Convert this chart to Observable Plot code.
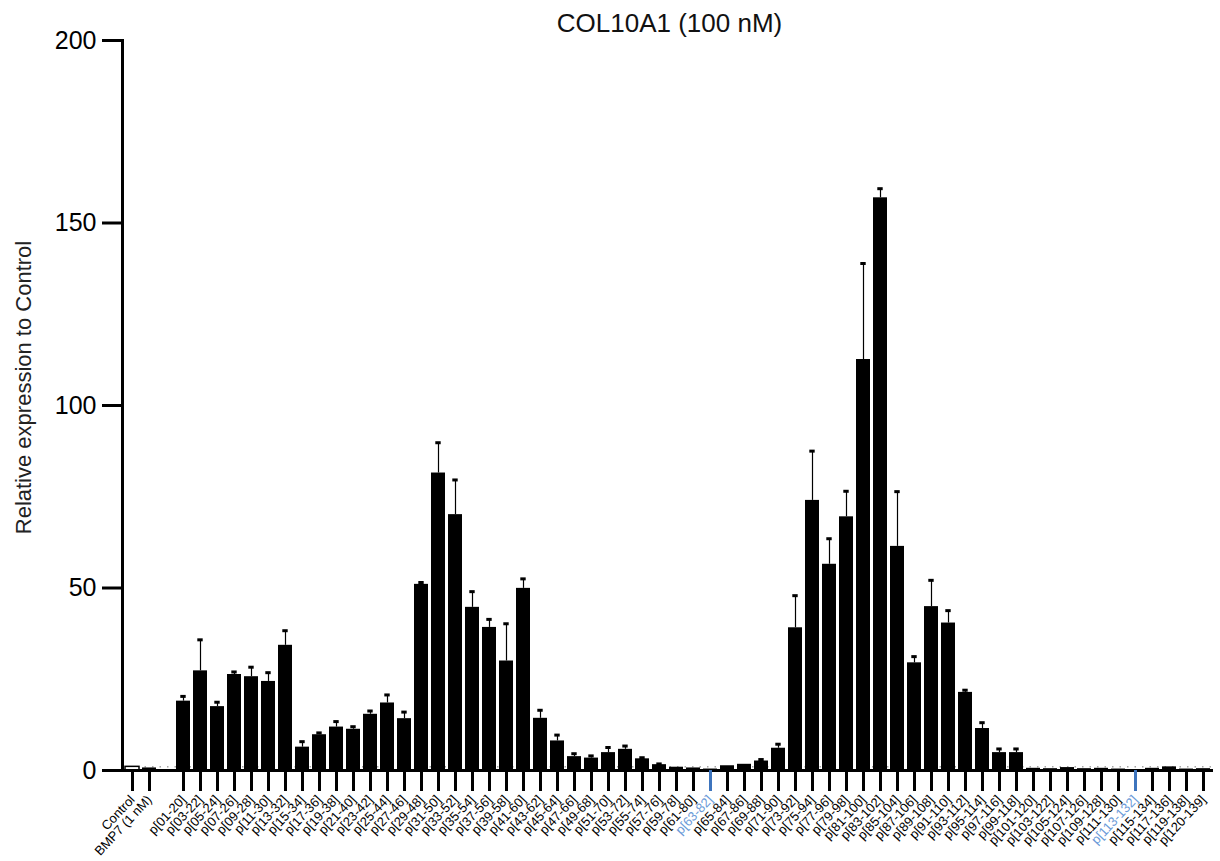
<!DOCTYPE html>
<html><head><meta charset="utf-8">
<script src="https://cdn.jsdelivr.net/npm/d3@7"></script>
<script src="https://cdn.jsdelivr.net/npm/@observablehq/plot@0.6"></script>
<style>
body{margin:0;background:#fff;font-family:"Liberation Sans",Arial,sans-serif;}
#wrap{position:relative;width:1220px;height:861px;}
#title{position:absolute;left:122px;width:1095px;top:8px;text-align:center;font-size:26px;line-height:30px;color:#111;}
</style></head><body>
<div id="wrap"><div id="chart"></div><div id="title">COL10A1 (100 nM)</div></div>
<script>
const controls = ["Control", "BMP7 (1 nM)"];
const controlValues = [1.0, 0.7];
const peptides = ["p[01-20]","p[03-22]","p[05-24]","p[07-26]","p[09-28]","p[11-30]","p[13-32]","p[15-34]","p[17-36]","p[19-38]",
"p[21-40]","p[23-42]","p[25-44]","p[27-46]","p[29-48]","p[31-50]","p[33-52]","p[35-54]","p[37-56]","p[39-58]",
"p[41-60]","p[43-62]","p[45-64]","p[47-66]","p[49-68]","p[51-70]","p[53-72]","p[55-74]","p[57-76]","p[59-78]",
"p[61-80]","p[63-82]","p[65-84]","p[67-86]","p[69-88]","p[71-90]","p[73-92]","p[75-94]","p[77-96]","p[79-98]",
"p[81-100]","p[83-102]","p[85-104]","p[87-106]","p[89-108]","p[91-110]","p[93-112]","p[95-114]","p[97-116]","p[99-118]",
"p[101-120]","p[103-122]","p[105-124]","p[107-126]","p[109-128]","p[111-130]","p[113-132]","p[115-134]","p[117-136]","p[119-138]",
"p[120-139]"];
const means = [19.0,27.3,17.5,26.3,25.7,24.4,34.3,6.4,9.8,11.9,
11.3,15.4,18.5,14.2,51.0,81.5,70.1,44.7,39.2,30.0,
49.9,14.3,8.1,3.8,3.4,4.9,5.8,3.2,1.6,0.9,
0.7,0.4,1.3,1.7,2.6,6.1,39.1,74.0,56.5,69.5,
112.6,156.9,61.4,29.5,44.9,40.4,21.4,11.5,4.9,4.9,
0.6,0.5,0.8,0.5,0.6,0.4,0.1,0.6,1.0,0.4,
0.5];
const sds = [1.3,8.5,1.2,0.7,2.6,2.4,4.0,1.5,0.5,1.5,
0.7,0.9,2.2,1.8,0.5,8.3,9.5,4.3,2.2,10.2,
2.6,2.2,1.6,0.8,0.6,1.4,0.9,0.3,0.2,0,
0,0,0,0,0.4,1.1,8.8,13.5,7.0,7.0,
26.3,2.5,15.0,1.7,7.2,3.4,0.6,1.6,1.0,1.0,
0,0,0,0,0,0,0,0,0,0,
0];
const highlighted = ["p[63-82]", "p[113-132]"];
const yTicks = [0, 50, 100, 150, 200];
const spacer = " ";
const controlLevel = 1;

const domain = [...controls, spacer, ...peptides];
const ctrlRows = controls.map((c, i) => ({cat: c, mean: controlValues[i]}));
const pepRows = peptides.map((p, i) => ({cat: p, mean: means[i], sd: sds[i]}));
const errRows = pepRows.filter(d => d.sd > 0);
const blackTicks = [...controls, ...peptides].filter(c => !highlighted.includes(c));
const font = "Liberation Sans, Arial, sans-serif";

const chart = Plot.plot({
  width: 1220,
  height: 861,
  marginLeft: 122,
  marginRight: 7,
  marginTop: 40,
  marginBottom: 91,
  style: {fontFamily: font, background: "white"},
  x: {type: "band", domain, range: [122, 1213], paddingInner: 0.2, paddingOuter: 0.1, axis: null},
  y: {domain: [0, 200], axis: null},
  marks: [
    Plot.ruleY([controlLevel], {stroke: "#777", strokeWidth: 1, strokeDasharray: "1.5,6"}),
    Plot.barY(ctrlRows.slice(0, 1), {x: "cat", y: "mean", fill: "white", stroke: "black", strokeWidth: 1.5}),
    Plot.barY(ctrlRows.slice(1), {x: "cat", y: "mean", fill: "black"}),
    Plot.barY(pepRows, {x: "cat", y: "mean", fill: "black"}),
    Plot.ruleX(errRows, {x: "cat", y1: "mean", y2: d => d.mean + d.sd, stroke: "black", strokeWidth: 1.2}),
    Plot.tickY(errRows, {x: "cat", y: d => d.mean + d.sd, stroke: "black", strokeWidth: 3, insetLeft: 4.3, insetRight: 4.3}),
    Plot.ruleY([0], {stroke: "black", strokeWidth: 3}),
    Plot.frame({anchor: "left", stroke: "black", strokeWidth: 3}),
    Plot.axisY({ticks: yTicks, tickSize: 20, tickPadding: 6, strokeWidth: 3, fontSize: 25, label: null, tickFormat: d => String(d)}),
    Plot.axisX({ticks: blackTicks, tickSize: 21, tickPadding: 6, strokeWidth: 3, tickRotate: -47, fontSize: 13, label: null}),
    Plot.axisX({ticks: highlighted, tickSize: 21, tickPadding: 6, strokeWidth: 3, tickRotate: -47, fontSize: 13, label: null, stroke: "#3d74bd", fill: "#6a9ad8"}),
    Plot.text(["Relative expression to Control"], {frameAnchor: "left", textAnchor: "middle", dx: -99, dy: -18, rotate: -90, fontSize: 22, fill: "#222"})
  ]
});
document.getElementById("chart").appendChild(chart);
</script>
</body></html>
